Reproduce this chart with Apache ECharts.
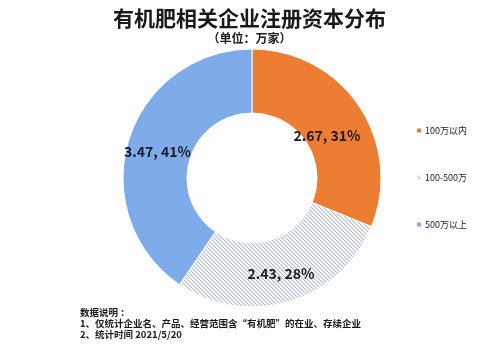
<!DOCTYPE html>
<html>
<head>
<meta charset="utf-8">
<script src="https://cdn.jsdelivr.net/npm/echarts@6/dist/echarts.min.js"></script>
<style>
  html, body { margin: 0; padding: 0; background: #fff; }
  #chart { width: 499px; height: 350px; }
</style>
</head>
<body>
<div id="chart"></div>
<script>
// Registered-capital bands and company counts (万家)
const categories = ['100万以内', '100-500万', '500万以上'];
const values = [2.67, 2.43, 3.47];
const noteLines = [
  '数据说明 ：',
  '1、仅统计企业名、产品、经营范围含“有机肥”的在业、存续企业',
  '2、统计时间 2021/5/20'
];

// Diagonal hatch fill for the middle band
function hatchPattern() {
  const c = document.createElement('canvas');
  c.width = 4; c.height = 4;
  const g = c.getContext('2d');
  g.fillStyle = '#ffffff';
  g.fillRect(0, 0, 4, 4);
  g.strokeStyle = '#b4c0c8';
  g.lineWidth = 1.2;
  g.beginPath();
  g.moveTo(-1, -1); g.lineTo(5, 5);
  g.moveTo(-1, 3); g.lineTo(1, 5);
  g.moveTo(3, -1); g.lineTo(5, 1);
  g.stroke();
  return { image: c, repeat: 'repeat' };
}

const colors = ['#ed7d31', hatchPattern(), '#7eacea'];
// per-slice nudges of the value labels
const labelOffsets = [[-8, 13], [0, 0], [1, 3]];
const font = '"Noto Sans CJK SC", "Noto Sans", sans-serif';

const chart = echarts.init(document.getElementById('chart'), null, { renderer: 'canvas' });
chart.setOption({
  animation: false,
  backgroundColor: '#ffffff',
  title: {
    text: '有机肥相关企业注册资本分布',
    subtext: '（单位：万家）',
    left: 'center',
    top: 3,
    itemGap: 3,
    textStyle: { fontFamily: font, fontSize: 21, fontWeight: 'bold', color: '#1a1a1a' },
    subtextStyle: { fontFamily: font, fontSize: 12, fontWeight: 'bold', color: '#1a1a1a' }
  },
  legend: {
    orient: 'vertical',
    left: 410,
    top: 121,
    itemGap: 38,
    itemWidth: 6,
    itemHeight: 6,
    icon: 'rect',
    textStyle: { fontFamily: font, fontSize: 9, color: '#222', padding: [0, 0, 0, -2] },
    data: categories
  },
  series: [{
    type: 'pie',
    center: [252, 178],
    radius: [65, 129],
    startAngle: 90,
    clockwise: true,
    percentPrecision: 0,
    avoidLabelOverlap: false,
    itemStyle: { borderColor: '#ffffff', borderWidth: 1 },
    label: {
      position: 'inside',
      fontFamily: font,
      fontSize: 14,
      fontWeight: 'bold',
      color: '#1c1c28',
      formatter: p => p.value.toFixed(2) + ', ' + p.percent + '%'
    },
    labelLine: { show: false },
    emphasis: { disabled: true },
    data: categories.map((name, i) => ({
      name,
      value: values[i],
      itemStyle: { color: colors[i] },
      label: { offset: labelOffsets[i] }
    }))
  }],
  graphic: noteLines.map((t, i) => ({
    type: 'text',
    left: 80,
    top: 308 + i * 10.7,
    style: { text: t, font: 'bold 9.5px ' + font, fill: '#1a1a1a' }
  }))
});
</script>
</body>
</html>
